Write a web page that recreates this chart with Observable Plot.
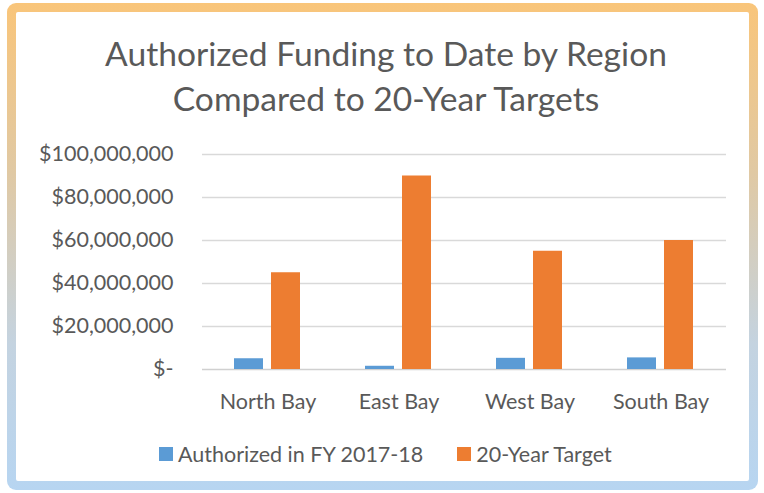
<!DOCTYPE html>
<html>
<head>
<meta charset="utf-8">
<script src="https://cdn.jsdelivr.net/npm/d3@7"></script>
<script src="https://cdn.jsdelivr.net/npm/@observablehq/plot@0.6"></script>
<style>
  html, body { margin: 0; padding: 0; background: #fff; }
  #wrap { position: relative; width: 764px; height: 493px; overflow: hidden; font-family: Lato, "Open Sans", sans-serif; color: #595959; }
  #frame { position: absolute; left: 7px; top: 3px; width: 751px; height: 487px; border-radius: 9px;
           background: linear-gradient(to bottom, #f9c57a 0%, #e0c9a4 35%, #c4d3e0 70%, #b7d5f1 100%); }
  #inner { position: absolute; left: 9px; top: 9px; right: 9px; bottom: 9px; background: #fff; border-radius: 2px; }
  #title { position: absolute; left: 0; width: 772px; top: 31px; text-align: center; font-size: 33.6px; line-height: 45px; color: #595959; }
  #chart { position: absolute; left: 0; top: 0; }
  #legend { position: absolute; top: 440px; left: 159px; font-size: 21.5px; line-height: 28px; display: flex; align-items: center; white-space: nowrap; }
  .sw { display: inline-block; width: 14px; height: 14px; margin-right: 5px; }
  .item { display: flex; align-items: center; }
</style>
</head>
<body>
<div id="wrap">
  <div id="frame"><div id="inner"></div></div>
  <div id="chart"></div>
  <div id="title">Authorized Funding to Date by Region<br>Compared to 20-Year Targets</div>
  <div id="legend"></div>
</div>
<script>
const regions = ["North Bay", "East Bay", "West Bay", "South Bay"];
const seriesNames = ["Authorized in FY 2017-18", "20-Year Target"];
const authorized = [5000000, 1500000, 5200000, 5400000];
const target = [45000000, 90000000, 55000000, 60000000];
const yTicks = [0, 20000000, 40000000, 60000000, 80000000, 100000000];
const colors = ["#5b9bd5", "#ed7d31"];

const rows = [];
regions.forEach((r, i) => {
  rows.push({region: r, series: seriesNames[0], value: authorized[i]});
  rows.push({region: r, series: seriesNames[1], value: target[i]});
});

const fmt = v => v === 0 ? "$-" : "$" + d3.format(",")(v);

const plot = Plot.plot({
  width: 764,
  height: 493,
  marginTop: 154,
  marginBottom: 124,
  marginLeft: 200,
  marginRight: 37,
  style: { fontFamily: "Lato, 'Open Sans', sans-serif", fontSize: "21.5px", color: "#595959", background: "transparent", overflow: "visible" },
  fx: { domain: regions, padding: 0, label: null, axis: "bottom", tickSize: 0, tickPadding: 24 },
  x: { domain: seriesNames, axis: null, paddingInner: 0.213, paddingOuter: 0.863 },
  y: { domain: [0, 100000000], ticks: yTicks, tickFormat: fmt, tickSize: 0, tickPadding: 29, label: null },
  color: { domain: seriesNames, range: colors },
  marks: [
    Plot.ruleY(yTicks.filter(d => d > 0), { stroke: "#d9d9d9", strokeWidth: 1.5, strokeOpacity: 1 }),
    Plot.ruleY([0], { stroke: "#d0d0d0", strokeWidth: 1.5 }),
    Plot.barY(rows, { fx: "region", x: "series", y: "value", fill: "series" })
  ]
});
document.getElementById("chart").appendChild(plot);

const legend = document.getElementById("legend");
seriesNames.forEach((s, i) => {
  const it = document.createElement("div");
  it.className = "item";
  it.style.marginRight = i === 0 ? "34px" : "0";
  const sw = document.createElement("span");
  sw.className = "sw";
  sw.style.background = colors[i];
  it.appendChild(sw);
  it.appendChild(document.createTextNode(s));
  legend.appendChild(it);
});
</script>
</body>
</html>
